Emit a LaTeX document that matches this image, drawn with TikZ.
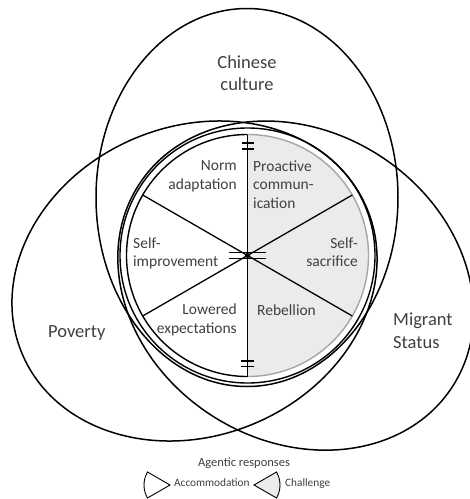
\documentclass[tikz,border=0pt]{standalone}
\usepackage{fontspec}
\setmainfont{Carlito}
\usetikzlibrary{calc}
\definecolor{txt}{HTML}{404040}
\definecolor{shade}{HTML}{EBEBEB}
\definecolor{shadeline}{HTML}{A6A6A6}
\begin{document}
\begin{tikzpicture}[x=1pt,y=-1pt,
  big/.style={draw=black, line width=1.5pt},
  ring/.style={draw=black, line width=1.4pt},
  divider/.style={draw=black, line width=1.3pt},
  tickmark/.style={draw=black, line width=1.1pt},
  biglabel/.style={text=txt, font=\fontsize{18.5}{22.5}\selectfont, inner sep=0pt},
  seglabel/.style={text=txt, font=\fontsize{15.5}{18.5}\selectfont, inner sep=0pt},
  legtitle/.style={text=txt, font=\fontsize{12.5}{15}\selectfont, inner sep=0pt},
  legitem/.style={text=txt, font=\fontsize{11.3}{13.5}\selectfont, inner sep=0pt},
  legsector/.style={draw=black, line width=0.9pt},
]
\useasboundingbox (0,0) rectangle (470,499);
\fill[white] (0,0) rectangle (470,499);

\coordinate (O) at (247.5,255.5);
\coordinate (top) at ($(O)+(0,-121)$);
\coordinate (bot) at ($(O)+(0,121)$);
\coordinate (ur) at ($(O)+(104.8,-60.5)$);
\coordinate (ul) at ($(O)+(-104.8,-60.5)$);
\coordinate (lr) at ($(O)+(104.8,60.5)$);
\coordinate (ll) at ($(O)+(-104.8,60.5)$);

% shaded challenge half
\path[fill=shade] (top) arc[start angle=-90, end angle=90, radius=121] -- cycle;
\draw[shadeline, line width=1.4pt] (top) arc[start angle=-90, end angle=90, radius=121];
\draw[ring] (top) arc[start angle=-90, end angle=-270, radius=121];

% dividers
\draw[divider] (top) -- (bot);
\draw[divider] (O) -- (ur);
\draw[divider] (O) -- (ul);
\draw[divider] (O) -- (lr);
\draw[divider] (O) -- (ll);
\fill[black] (O) circle[radius=2.6];

% tick marks
\draw[tickmark] ($(O)+(-6,-112.5)$) -- ++(12,0);
\draw[tickmark] ($(O)+(-6,-106.5)$) -- ++(12,0);
\draw[tickmark] ($(O)+(-6.5,105.5)$) -- ++(13,0);
\draw[tickmark] ($(O)+(-6.5,111)$) -- ++(13,0);
\draw[tickmark] ($(O)+(-18.5,-3)$) -- ++(37,0);
\draw[tickmark] ($(O)+(-18.5,3)$) -- ++(37,0);

% outer ring
\draw[ring] (O) circle[radius=127.5];

% big ellipses
\draw[big] (247,197.5) ellipse[x radius=151, y radius=189];
\draw[big, rotate around={23:(194.5,281)}] (194.5,281) ellipse[x radius=187.1, y radius=154.6];
\draw[big, rotate around={-32.6:(295.7,285.6)}] (295.7,285.6) ellipse[x radius=186.5, y radius=154.7];

% labels
\node[biglabel, anchor=north, align=center] (chinese) at (247,55) {Chinese\\culture};
\node[biglabel, anchor=base west] (poverty) at (48,337) {Poverty};
\node[biglabel, anchor=north west, align=left] (migrant) at (393,313) {Migrant\\Status};

\node[seglabel, anchor=north east, align=right] (norm) at (237,160.5) {Norm\\adaptation};
\node[seglabel, anchor=north west, align=left] (proactive) at (253,160.5) {Proactive\\commun-\\ication};
\node[seglabel, anchor=north west, align=left] (selfimp) at (133,237.5) {Self-\\improvement};
\node[seglabel, anchor=north east, align=right] (selfsac) at (358,237.5) {Self-\\sacrifice};
\node[seglabel, anchor=north east, align=right] (lowered) at (237,304) {Lowered\\expectations};
\node[seglabel, anchor=base west] (rebellion) at (257,315) {Rebellion};

% legend
\node[legtitle, anchor=base] (agentic) at (244,466) {Agentic responses};
\coordinate (accapex) at (170,485);
\coordinate (chalapex) at (254,485);
\draw[legsector, fill=white] (accapex) -- ++(150:26) arc[start angle=150, end angle=210, radius=26] -- cycle;
\draw[legsector, fill=shade] (chalapex) -- ++(-30:26) arc[start angle=-30, end angle=30, radius=26] -- cycle;
\node[legitem, anchor=base west] (accom) at (174,486.5) {Accommodation};
\node[legitem, anchor=base west] (chal) at (285,486.5) {Challenge};
\end{tikzpicture}
\end{document}
